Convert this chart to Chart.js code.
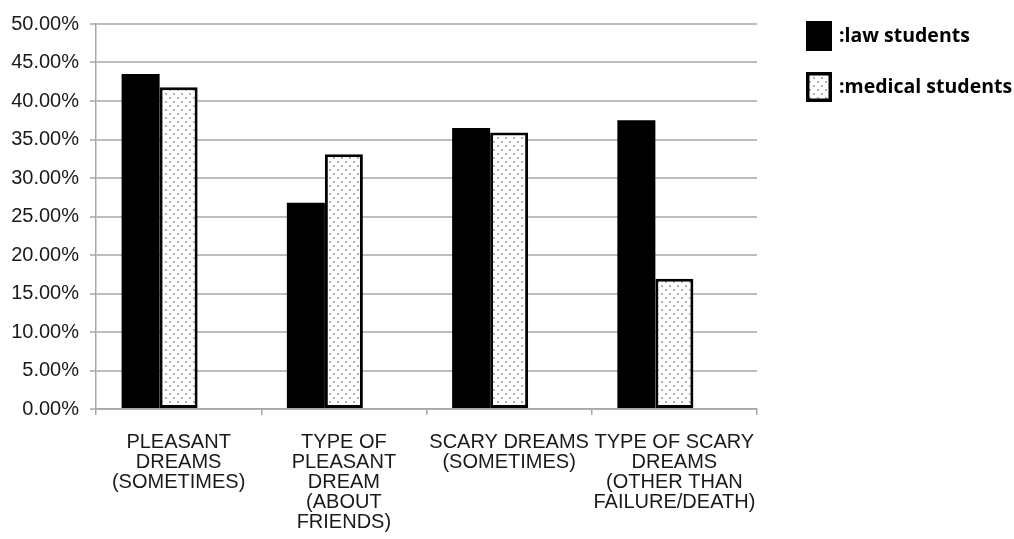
<!DOCTYPE html>
<html><head><meta charset="utf-8">
<script src="https://cdn.jsdelivr.net/npm/chart.js@4.4.1/dist/chart.umd.min.js"></script>
<style>html,body{margin:0;padding:0;background:#fff}#wrap{width:1014px;height:539px}</style>
</head><body><div id="wrap"><canvas id="c" width="1014" height="539"></canvas></div>
<script>
const categories = [
  ["PLEASANT", "DREAMS", "(SOMETIMES)"],
  ["TYPE OF", "PLEASANT", "DREAM", "(ABOUT", "FRIENDS)"],
  ["SCARY DREAMS", "(SOMETIMES)"],
  ["TYPE OF SCARY", "DREAMS", "(OTHER THAN", "FAILURE/DEATH)"]
];
const lawStudents = [43.5, 26.8, 36.5, 37.5];
const medicalStudents = [41.8, 33.1, 35.9, 16.9];
const spacerSeries = [null, null, null, null];
const seriesLabels = [":law students", ":medical students"];
const yMin = 0, yMax = 50, yStep = 5;

// dotted pattern
const pc = document.createElement('canvas');
pc.width = 8; pc.height = 8;
const pctx = pc.getContext('2d');
pctx.fillStyle = '#ffffff'; pctx.fillRect(0, 0, 8, 8);
pctx.fillStyle = '#b0b0b0';
pctx.fillRect(1, 1, 2, 2); pctx.fillRect(5, 5, 2, 2);
const ctxMain = document.getElementById('c').getContext('2d');
const dotPattern = ctxMain.createPattern(pc, 'repeat');

const sideLegend = {
  id: 'sideLegend',
  afterDraw(chart) {
    const ctx = chart.ctx;
    ctx.save();
    chart.data.datasets.forEach((ds, i) => {
      if (!ds.showInLegend) return;
      const x = 806, y = 21 + i * 51, w = 26, h = 30;
      ctx.fillStyle = ds.backgroundColor;
      ctx.fillRect(x, y, w, h);
      if (ds.borderWidth) {
        ctx.lineWidth = 3.5; ctx.strokeStyle = '#000';
        ctx.strokeRect(x + 1.75, y + 1.75, w - 3.5, h - 3.5);
      }
      ctx.fillStyle = '#000';
      ctx.font = 'bold 19.5px "Open Sans"';
      ctx.textBaseline = 'middle';
      ctx.textAlign = 'left';
      ctx.fillText(ds.label, 839, y + h / 2);
    });
    ctx.restore();
  }
};

new Chart(ctxMain, {
  type: 'bar',
  data: {
    labels: categories,
    datasets: [
      { label: seriesLabels[0], data: lawStudents, backgroundColor: '#000000', borderWidth: 0, showInLegend: true },
      { label: seriesLabels[1], data: medicalStudents, backgroundColor: dotPattern, borderColor: '#000000', borderWidth: 3, borderSkipped: false, showInLegend: true },
      { label: '', data: spacerSeries, backgroundColor: 'rgba(0,0,0,0)', showInLegend: false }
    ]
  },
  options: {
    responsive: false,
    animation: false,
    layout: { padding: { top: 24, right: 257, left: 0, bottom: 0 } },
    datasets: { bar: { categoryPercentage: 0.69, barPercentage: 1.0 } },
    plugins: { legend: { display: false }, tooltip: { enabled: false } },
    scales: {
      x: {
        offset: true,
        grid: { display: true, drawOnChartArea: false, drawTicks: true, tickLength: 6, color: '#a8a8a8', lineWidth: 1.5, offset: true },
        border: { display: true, color: '#a8a8a8', width: 1.5 },
        ticks: { color: '#1a1a1a', font: { family: '"Liberation Sans", Arial', size: 20, lineHeight: 1.0 }, padding: 17, maxRotation: 0, minRotation: 0, autoSkip: false },
        afterFit(scale) { scale.height = 130; }
      },
      y: {
        min: yMin, max: yMax,
        ticks: { stepSize: yStep, color: '#1a1a1a', font: { family: '"Liberation Sans", Arial', size: 20 }, padding: 11, callback: v => v.toFixed(2) + '%' },
        grid: { color: '#bdbdbd', lineWidth: 2, tickLength: 6, drawTicks: true },
        border: { display: true, color: '#a8a8a8', width: 1.5 },
        afterFit(scale) { scale.width = 96; }
      }
    }
  },
  plugins: [sideLegend]
});
</script>
</body></html>
